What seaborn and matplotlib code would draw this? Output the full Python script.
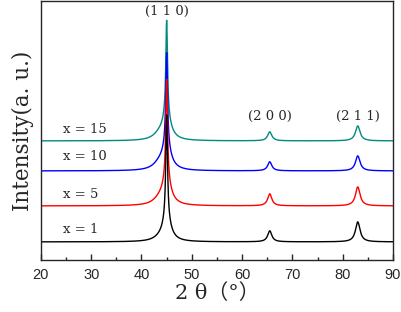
import numpy as np
import pandas as pd
import seaborn as sns
import matplotlib.pyplot as plt

# Values (y in arbitrary offset units)

samples = ['x = 1', 'x = 5', 'x = 10', 'x = 15']
colors = ['#000000', '#ff0000', '#0000ff', '#008b80']
baselines = [18, 54, 89, 119]
peak_positions = [45.0, 65.5, 83.0]
peak_labels = ['(1 1 0)', '(2 0 0)', '(2 1 1)']
height_110 = [104, 100, 92, 96]
base_110 = [22, 24, 23, 22]
shoulder = [2, 5, 6, 5]
height_200 = [11, 12, 9, 9]
height_211 = [20, 19, 15, 15]
label_y = [30, 65, 103, 130]


def lorentz(t, centre, height, hwhm):
    return height * hwhm ** 2 / ((t - centre) ** 2 + hwhm ** 2)


# Building the patterns from the read peak values

two_theta = np.linspace(20, 90, 1401)
frames = []
for i, name in enumerate(samples):
    y = (baselines[i]
         + lorentz(two_theta, peak_positions[0], height_110[i], 0.2)
         + lorentz(two_theta, peak_positions[0], base_110[i], 1.0)
         + lorentz(two_theta, 43.6, shoulder[i], 1.5)
         + lorentz(two_theta, peak_positions[1], height_200[i], 0.5)
         + lorentz(two_theta, peak_positions[2], height_211[i], 0.55))
    frames.append(pd.DataFrame({'two_theta': two_theta, 'intensity': y, 'sample': name}))
data = pd.concat(frames)

sns.set_style('ticks')

fig = plt.figure(figsize=(4.01, 3.12), dpi=100)
ax = fig.add_axes([0.102, 0.167, 0.878, 0.83])

# draw tallest first so the shorter peaks sit on top
order = samples[::-1]
sns.lineplot(data=data, x='two_theta', y='intensity', hue='sample',
             hue_order=order, palette=dict(zip(samples, colors)),
             linewidth=1.0, legend=False, ax=ax, estimator=None, sort=False)

serif = ['DejaVu Serif', 'Noto Sans CJK SC']
for i, name in enumerate(samples):
    ax.text(24.4, label_y[i], name, fontsize=9.5, family=serif, va='center')

ax.text(peak_positions[0], 248, peak_labels[0], fontsize=9.5, family=serif, ha='center', va='center')
ax.text(peak_positions[1], 143, peak_labels[1], fontsize=9.5, family=serif, ha='center', va='center')
ax.text(peak_positions[2], 143, peak_labels[2], fontsize=9.5, family=serif, ha='center', va='center')

ax.set_xlim(20, 90)
ax.set_ylim(0, 259)
ax.set_xticks(range(20, 91, 10))
ax.set_xticks(range(25, 90, 10), minor=True)
ax.set_yticks([])
ax.tick_params(axis='x', direction='in', length=4, width=1, labelsize=10.5, pad=6)
ax.tick_params(axis='x', which='minor', direction='in', length=2.5, width=1)
for lab in ax.get_xticklabels():
    lab.set_family(['Liberation Sans', 'DejaVu Sans'])
for s in ax.spines.values():
    s.set_linewidth(1.0)

ax.set_xlabel('2 θ（°）', fontsize=15, family=serif, labelpad=1)
ax.set_ylabel('Intensity(a. u.)', fontsize=15.5, family=serif, labelpad=5)

fig.savefig('out.png', dpi=100)
